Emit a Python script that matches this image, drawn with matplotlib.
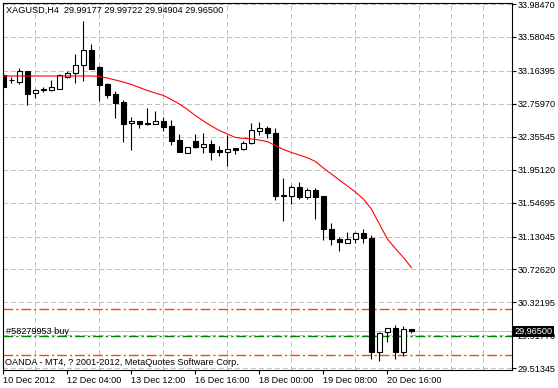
import matplotlib
matplotlib.use("Agg")
import matplotlib.pyplot as plt
import numpy as np

plt.rcParams["font.family"] = ["Liberation Sans", "DejaVu Sans"]
plt.rcParams["lines.scale_dashes"] = False

# XAGUSD H4 candles
opens = [33.113, 33.058, 33.031, 33.162, 32.898, 32.941, 32.929, 32.945, 33.092, 33.134,
         33.230, 33.420, 33.211, 33.007, 32.880, 32.778, 32.518, 32.549, 32.524, 32.516,
         32.545, 32.487, 32.315, 32.152, 32.300, 32.226, 32.263, 32.193, 32.172, 32.214,
         32.209, 32.275, 32.430, 32.466, 32.398, 31.637, 31.632, 31.735, 31.620, 31.702,
         31.628, 31.219, 31.097, 31.055, 31.097, 31.170, 31.109, 29.717, 29.955, 30.012,
         29.710, 29.99177]
highs = [33.126, 33.089, 33.196, 33.162, 32.941, 32.966, 33.052, 33.126, 33.162, 33.367,
         33.776, 33.490, 33.224, 33.019, 32.917, 32.806, 32.598, 32.552, 32.705, 32.671,
         32.601, 32.561, 32.389, 32.230, 32.389, 32.398, 32.315, 32.242, 32.377, 32.217,
         32.303, 32.520, 32.536, 32.487, 32.466, 31.845, 31.763, 31.804, 31.726, 31.723,
         31.634, 31.293, 31.125, 31.183, 31.186, 31.223, 31.149, 29.955, 30.008, 30.045,
         30.033, 29.99722]
lows = [32.954, 33.015, 32.997, 32.745, 32.837, 32.905, 32.917, 32.941, 33.073, 33.011,
        33.043, 33.187, 32.798, 32.835, 32.589, 32.287, 32.193, 32.459, 32.505, 32.512,
        32.432, 32.254, 32.165, 32.150, 32.214, 32.152, 32.070, 32.119, 31.996, 32.140,
        32.193, 32.266, 32.377, 32.336, 31.579, 31.325, 31.526, 31.588, 31.588, 31.350,
        31.094, 31.023, 30.957, 31.051, 31.048, 31.048, 29.624, 29.603, 29.840, 29.624,
        29.668, 29.94904]
closes = [32.966, 33.046, 33.162, 32.880, 32.935, 32.933, 32.966, 33.113, 33.141, 33.236,
          33.420, 33.193, 32.991, 32.868, 32.773, 32.516, 32.545, 32.508, 32.506, 32.545,
          32.478, 32.307, 32.172, 32.226, 32.226, 32.266, 32.172, 32.168, 32.201, 32.193,
          32.282, 32.435, 32.459, 32.398, 31.632, 31.628, 31.735, 31.612, 31.702, 31.612,
          31.219, 31.097, 31.060, 31.097, 31.170, 31.109, 29.717, 29.950, 30.004, 29.710,
          29.992, 29.96500]

# moving average (red line)
ma_values = [33.101, 33.101, 33.101, 33.101, 33.101, 33.101, 33.101, 33.101, 33.101, 33.101,
             33.101, 33.101, 33.095, 33.076, 33.052, 33.027, 32.997, 32.960, 32.923, 32.892,
             32.862, 32.813, 32.757, 32.690, 32.616, 32.549, 32.487, 32.432, 32.389, 32.346,
             32.336, 32.328, 32.315, 32.295, 32.248, 32.199, 32.162, 32.131, 32.098, 32.052,
             31.972, 31.898, 31.825, 31.751, 31.677, 31.591, 31.469, 31.284, 31.100, 30.984,
             30.873, 30.751]

date_labels = ["10 Dec 2012", "12 Dec 04:00", "13 Dec 12:00", "16 Dec 16:00",
               "18 Dec 00:00", "19 Dec 08:00", "20 Dec 16:00"]
date_bars = [0, 8, 16, 24, 32, 40, 48]
price_ticks = [33.98470, 33.58045, 33.16395, 32.75970, 32.35545, 31.95120,
               31.54695, 31.13045, 30.72620, 30.32195, 29.91770, 29.51345]

bid = 29.96500
entry_price = 29.910
take_profit = 30.241
stop_loss = 29.677
order_label = "#58279953 buy"

fs = 6.6
px = 0.72  # one pixel in points

fig = plt.figure(figsize=(5.58, 3.88), dpi=100)
ax = fig.add_axes([2.5 / 558, 18 / 388, 509.2 / 558, 367.3 / 388])
ax.set_xlim(-0.11, 63.54)
ax.set_ylim(29.4924, 34.0007)

o = np.array(opens)
c = np.array(closes)
x = np.arange(len(o))
up = c > o

grid_style = dict(color="#C0C0C0", lw=px, linestyle=(0, (3, 2.2)), antialiased=False)
dashdot = (0, (7, 2.2, 1.5, 2.2))

# order lines: take profit / stop loss, entry, bid
ax.axhline(take_profit, color="#FF4500", lw=1.0, linestyle=dashdot, zorder=2)
ax.axhline(stop_loss, color="#FF4500", lw=1.0, linestyle=dashdot, zorder=2)
ax.axhline(entry_price, color="#008000", lw=1.0, linestyle=dashdot, zorder=2)
ax.axhline(bid, color="#C0C0C0", lw=px, antialiased=False, zorder=2)

ax.vlines(x, lows, highs, color="black", lw=0.8, zorder=3)
ax.bar(x[up], (c - o)[up], bottom=o[up], width=0.55, facecolor="white",
       edgecolor="black", lw=0.8, zorder=4)
ax.bar(x[~up], (o - c)[~up], bottom=c[~up], width=0.55, facecolor="black",
       edgecolor="black", lw=0.8, zorder=4)
ax.plot(x, ma_values, color="red", lw=0.8, zorder=5)

# axes styling
ax.yaxis.tick_right()
ax.set_yticks(price_ticks)
ax.set_yticklabels([f"{p:.5f}" for p in price_ticks])
ax.set_xticks(date_bars)
ax.set_xticklabels(date_labels, ha="left")
ax.set_xticks(np.arange(4, 61, 4), minor=True)
ax.tick_params(axis="x", which="minor", length=0)
ax.tick_params(axis="both", which="major", direction="out", length=3, width=0.8,
               color="black", labelsize=fs, pad=1.5)
ax.tick_params(axis="y", pad=1)
ax.grid(axis="x", which="minor", **grid_style)
ax.grid(axis="y", which="major", **grid_style)
ax.set_axisbelow(True)
for s in ax.spines.values():
    s.set_color("black")
    s.set_linewidth(0.8)

ax.text(0.3, entry_price + 0.005, order_label, fontsize=fs, va="bottom", ha="left", zorder=6)
ax.text(0.005, 0.02, "OANDA - MT4, ? 2001-2012, MetaQuotes Software Corp.",
        transform=ax.transAxes, fontsize=fs, va="center", ha="left", zorder=6)
fig.text(6 / 558, 1 - 10 / 388, "XAGUSD,H4  29.99177 29.99722 29.94904 29.96500",
         fontsize=fs, va="center", ha="left")
ax.text(1.006, bid, f"{bid:.5f}", transform=ax.get_yaxis_transform(), color="white",
        fontsize=fs, va="center", ha="left", clip_on=False, zorder=10,
        bbox=dict(boxstyle="square,pad=0.15", fc="black", ec="none"))

fig.savefig("out.png", dpi=100)
